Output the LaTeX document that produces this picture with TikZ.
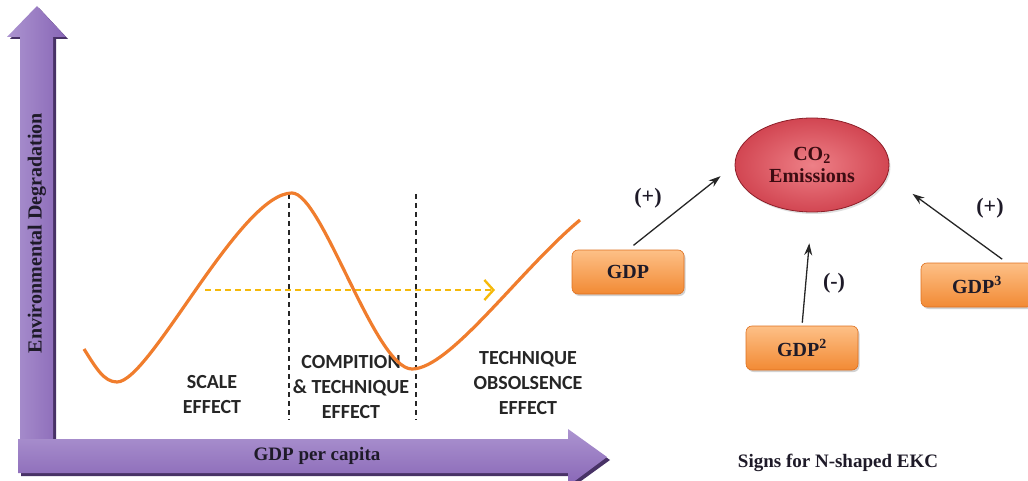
\documentclass[tikz,border=0pt]{standalone}
\usepackage{fontspec}
\setmainfont{Liberation Serif}
\newfontfamily\calibfont{Carlito}
\usetikzlibrary{arrows.meta,shadows,shapes.geometric}
\definecolor{purL}{RGB}{172,148,208}
\definecolor{purM}{RGB}{136,102,182}
\definecolor{purD}{RGB}{72,50,102}
\definecolor{curveorange}{RGB}{240,125,45}
\definecolor{boxtop}{RGB}{253,192,135}
\definecolor{boxbot}{RGB}{242,138,52}
\definecolor{boxedge}{RGB}{222,112,32}
\definecolor{emred}{RGB}{210,70,82}
\definecolor{emredL}{RGB}{238,128,135}
\definecolor{emedge}{RGB}{140,30,40}
\definecolor{dashyellow}{RGB}{245,185,10}
\definecolor{inkdark}{RGB}{30,26,40}
\tikzset{
  gdpbox/.style={draw=boxedge, line width=0.6pt, rounded corners=6pt,
    top color=boxtop, bottom color=boxbot, minimum width=112pt, minimum height=44pt,
    font=\bfseries\fontsize{20}{24}\selectfont, text=inkdark,
    drop shadow={shadow xshift=1.5pt, shadow yshift=-2pt, fill=black!35}},
  effectlabel/.style={align=center, font=\calibfont\bfseries\fontsize{20}{25}\selectfont, text=black!85},
  signlabel/.style={font=\bfseries\fontsize{22}{24}\selectfont, text=inkdark},
  linkarrow/.style={-{Stealth[length=12pt,width=8pt]}, line width=1.3pt, black!85},
}
\begin{document}
\begin{tikzpicture}[x=1pt,y=-1pt]
	\useasboundingbox (0,0) rectangle (1028,481);
	\clip (0,0) rectangle (1028,481);

	\fill[purD] (23,442) -- (23,39) -- (10,39) -- (39,8) -- (68,39) -- (56,39) -- (56,442) -- cycle;
	\shade[left color=purL, right color=purM] (20,440) -- (20,37) -- (7,37) -- (37,6) -- (66,37) -- (53,37) -- (53,440) -- cycle;
	\fill[purD] (21,442) -- (570,442) -- (570,432) -- (610,460) -- (570,489) -- (570,476) -- (21,476) -- cycle;
	\shade[top color=purL, bottom color=purM] (18,439) -- (568,439) -- (568,429) -- (607,457) -- (568,486) -- (568,473) -- (18,473) -- cycle;

	\node[rotate=90, font=\bfseries\fontsize{20}{24}\selectfont, text=inkdark] (ylabel) at (37,233) {Environmental Degradation};
	\node[font=\bfseries\fontsize{19}{24}\selectfont, text=inkdark] (xlabel) at (317,456) {GDP per capita};

	\node[effectlabel] (scale) at (212,395) {SCALE\\EFFECT};
	\node[effectlabel] (compet) at (351,387) {COMPITION\\\& TECHNIQUE\\EFFECT};
	\node[effectlabel] (obsol) at (528,383) {TECHNIQUE\\OBSOLSENCE\\EFFECT};

	\foreach \x in {289,416}{
	   \draw[black!85, line width=1.6pt, dash pattern=on 5pt off 4pt] (\x,194) -- (\x,420);
	}

	\draw[dashyellow, line width=2.4pt, dash pattern=on 6pt off 4pt, -{Straight Barb[length=9pt,width=20pt]}] (205,290) -- (495,290);

	\draw[curveorange, line width=3.2pt] (84,349) .. controls (96,368) and (104,382) .. (117,382)
	   .. controls (150,382) and (240,193) .. (292,193)
	   .. controls (322,193) and (375,369) .. (412,369)
	   .. controls (450,369) and (520,270) .. (580,220);

	\node[ellipse, minimum width=154pt, minimum height=94pt, inner sep=0pt, draw=emedge, line width=0.8pt,
	   inner color=emredL, outer color=emred, drop shadow={shadow xshift=1.5pt, shadow yshift=-2pt, fill=black!25},
	   align=center, font=\bfseries\fontsize{20}{22}\selectfont, text={rgb,255:red,60;green,12;blue,18}] (co2) at (812,165) {CO\textsubscript{2}\\Emissions};

	\node[gdpbox] (gdp) at (628,272) {GDP};
	\node[gdpbox] (gdp2) at (802,348) {GDP\textsuperscript{2}};
	\node[gdpbox] (gdp3) at (977,285) {GDP\textsuperscript{3}};

	\draw[linkarrow, shorten <=7pt, shorten >=18pt] (gdp.north) -- (co2.west);
	\draw[linkarrow, shorten <=3pt, shorten >=31pt] (gdp2.north) -- (co2.south);
	\draw[linkarrow, shorten <=6pt, shorten >=31pt] ([xshift=30pt]gdp3.north) -- (co2.-8);

	\node[signlabel] (signA) at (648,198) {(+)};
	\node[signlabel] (signB) at (834,283) {(-)};
	\node[signlabel] (signC) at (990,208) {(+)};
	\node[font=\bfseries\fontsize{19}{22}\selectfont, text=inkdark] (caption) at (838,463) {Signs for N-shaped EKC};
\end{tikzpicture}
\end{document}
